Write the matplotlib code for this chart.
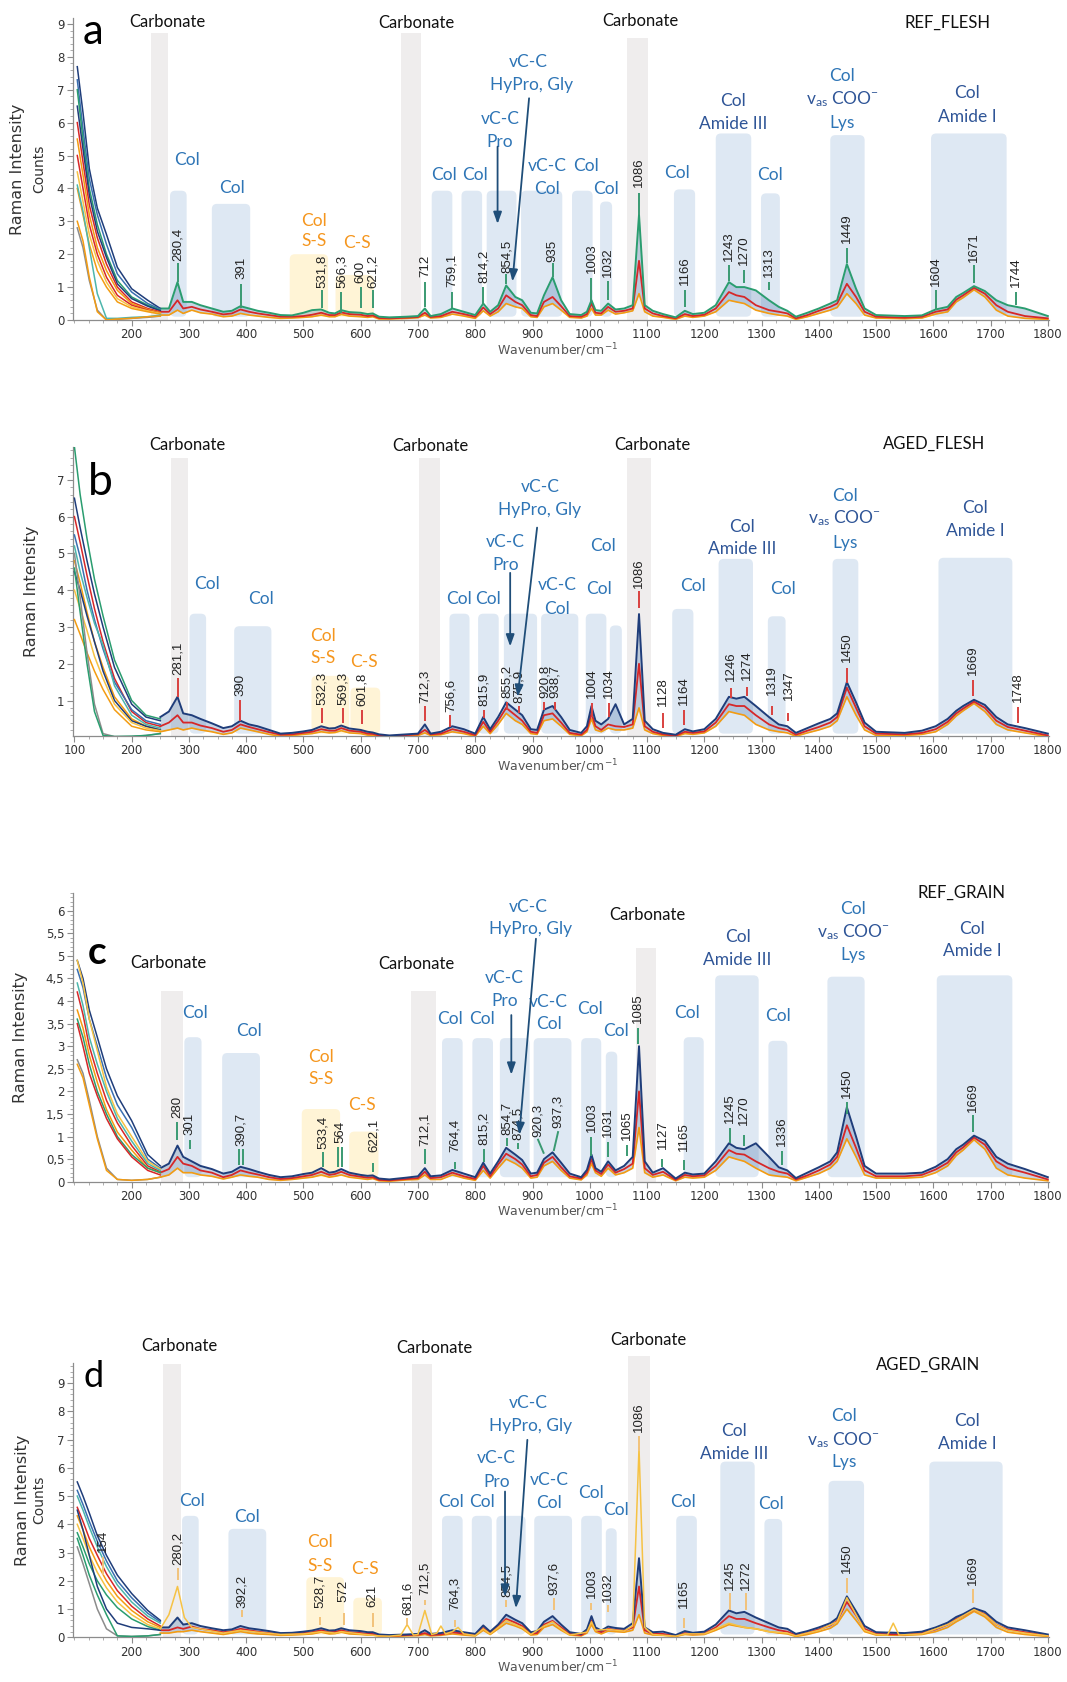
import matplotlib
matplotlib.use("Agg")
import matplotlib.pyplot as plt
from matplotlib.patches import FancyBboxPatch, Rectangle
from matplotlib.ticker import MultipleLocator

plt.rcParams["font.family"] = ["DejaVu Sans"]
plt.rcParams["mathtext.default"] = "regular"

W, H = 1067, 1682
LEFT_PX, RIGHT_PX = 72.7, 1049
XLIM = (97, 1802)

NAVY, BLUE, GREEN, TEAL = "#1F3D7A", "#3A6FB0", "#2A9D6F", "#4DB6AC"
RED, ORANGE, YELLOW, GREY = "#D62728", "#F39C12", "#F6C244", "#8C8C8C"
COL_BLUE, DARK_BLUE, ORANGE_TXT, ARROW = "#2E75B6", "#2F5597", "#F5961E", "#1F4E79"
BOX_GREY, BOX_BLUE, BOX_YELLOW = "#EFEDED", "#DEE8F3", "#FFF4D6"
VAS = r"v$_{as}$ COO$^{-}$"

# common wavenumber grid of the averaged bundles
WN = [250, 265, 280, 290, 305, 320, 340, 360, 375, 390,
      405, 420, 440, 460, 480, 500, 515, 531, 545, 555,
      566, 580, 600, 612, 621, 632, 650, 680, 700, 712,
      722, 740, 760, 780, 800, 814, 826, 840, 854, 870,
      882, 897, 908, 920, 935, 950, 965, 985, 995, 1003,
      1010, 1020, 1032, 1045, 1060, 1075, 1086, 1096, 1110, 1128,
      1150, 1166, 1180, 1200, 1220, 1243, 1256, 1270, 1290, 1313,
      1330, 1345, 1360, 1380, 1400, 1420, 1432, 1449, 1465, 1480,
      1500, 1550, 1580, 1604, 1625, 1640, 1652, 1671, 1690, 1710,
      1730, 1760, 1800]

# ---------------- panel a : REF_FLESH ----------------
A_LO = [0.15, 0.15, 0.3, 0.2, 0.3, 0.22, 0.18, 0.1, 0.12, 0.2,
        0.15, 0.12, 0.08, 0.05, 0.06, 0.08, 0.1, 0.15, 0.1, 0.1,
        0.17, 0.12, 0.1, 0.08, 0.1, 0.03, 0.03, 0.05, 0.07, 0.15,
        0.06, 0.08, 0.18, 0.12, 0.05, 0.28, 0.12, 0.25, 0.5, 0.4,
        0.35, 0.1, 0.08, 0.4, 0.5, 0.3, 0.08, 0.06, 0.12, 0.35,
        0.15, 0.15, 0.3, 0.18, 0.22, 0.28, 0.8, 0.25, 0.12, 0.08,
        0.02, 0.12, 0.08, 0.12, 0.25, 0.6, 0.55, 0.5, 0.3, 0.2,
        0.15, 0.12, 0.02, 0.1, 0.2, 0.3, 0.38, 0.8, 0.5, 0.15,
        0.06, 0.04, 0.06, 0.18, 0.25, 0.55, 0.68, 0.92, 0.7, 0.3,
        0.12, 0.05, 0.02]
A_MID = [0.25, 0.25, 0.6, 0.35, 0.4, 0.32, 0.25, 0.17, 0.2, 0.32,
         0.25, 0.2, 0.15, 0.1, 0.1, 0.12, 0.16, 0.22, 0.15, 0.15,
         0.23, 0.18, 0.16, 0.12, 0.14, 0.06, 0.05, 0.07, 0.09, 0.22,
         0.09, 0.12, 0.25, 0.18, 0.1, 0.38, 0.18, 0.35, 0.75, 0.55,
         0.45, 0.15, 0.12, 0.55, 0.7, 0.42, 0.12, 0.1, 0.18, 0.5,
         0.22, 0.2, 0.4, 0.25, 0.28, 0.35, 1.8, 0.35, 0.2, 0.12,
         0.05, 0.18, 0.12, 0.16, 0.35, 0.85, 0.75, 0.7, 0.45, 0.3,
         0.25, 0.2, 0.05, 0.15, 0.28, 0.4, 0.5, 1.1, 0.7, 0.25,
         0.1, 0.07, 0.1, 0.25, 0.32, 0.62, 0.75, 0.98, 0.8, 0.45,
         0.25, 0.12, 0.05]
A_HI = [0.35, 0.35, 1.15, 0.55, 0.55, 0.45, 0.35, 0.25, 0.28, 0.42,
        0.35, 0.28, 0.22, 0.15, 0.14, 0.22, 0.3, 0.32, 0.22, 0.2,
        0.3, 0.24, 0.22, 0.18, 0.2, 0.1, 0.08, 0.1, 0.12, 0.35,
        0.12, 0.18, 0.35, 0.25, 0.15, 0.5, 0.25, 0.45, 1.05, 0.7,
        0.6, 0.22, 0.2, 0.75, 1.3, 0.6, 0.18, 0.15, 0.25, 0.6,
        0.3, 0.28, 0.5, 0.32, 0.35, 0.45, 3.2, 0.45, 0.28, 0.18,
        0.08, 0.28, 0.18, 0.22, 0.45, 1.15, 1.0, 1.0, 0.9, 0.6,
        0.4, 0.28, 0.1, 0.22, 0.35, 0.5, 0.6, 1.7, 0.95, 0.35,
        0.15, 0.12, 0.14, 0.32, 0.4, 0.7, 0.82, 1.03, 0.88, 0.6,
        0.45, 0.35, 0.12]
A_TAIL_X = [105, 115, 126, 140, 156, 175, 200, 228, 250]
A_TAILS = [
    (NAVY, [7.7, 6.3, 4.6, 3.4, 2.6, 1.6, 0.95, 0.6, 0.35]),
    (BLUE, [7.3, 5.8, 4.3, 3.2, 2.3, 1.4, 0.85, 0.5, 0.33]),
    (GREEN, [7.0, 5.5, 4.0, 2.9, 2.0, 1.2, 0.7, 0.45, 0.3]),
    (NAVY, [6.5, 5.2, 3.8, 2.7, 1.9, 1.1, 0.65, 0.42, 0.28]),
    (RED, [6.0, 4.8, 3.5, 2.5, 1.7, 1.0, 0.55, 0.35, 0.25]),
    (ORANGE, [5.5, 4.4, 3.2, 2.2, 1.5, 0.9, 0.5, 0.32, 0.22]),
    (RED, [5.0, 4.0, 2.9, 2.0, 1.3, 0.75, 0.45, 0.3, 0.2]),
    (YELLOW, [4.5, 3.6, 2.6, 1.8, 1.15, 0.65, 0.4, 0.28, 0.2]),
    (ORANGE, [4.0, 3.2, 2.3, 1.5, 1.0, 0.55, 0.35, 0.25, 0.18]),
    (TEAL, [4.1, 3.3, 2.2, 0.8, 0.05, 0.05, 0.08, 0.1, 0.15]),
    (GREY, [2.8, 2.2, 1.2, 0.3, 0.0, 0.02, 0.05, 0.08, 0.12]),
    (ORANGE, [3.0, 2.4, 1.3, 0.25, 0.0, 0.03, 0.05, 0.1, 0.12]),
]
A_GREY = [(234, 264, 8.73), (670, 706, 8.73), (1065, 1101, 8.58)]
A_BLUE = [(267, 296, 3.93), (340, 407, 3.53), (724, 760, 3.93), (776, 812, 3.93),
          (820, 872, 3.93), (880, 952, 3.93), (969, 1005, 3.93), (1018, 1039, 3.6),
          (1147, 1184, 3.97), (1220, 1282, 5.67), (1299, 1332, 3.85),
          (1420, 1480, 5.62), (1596, 1728, 5.67)]
A_YELLOW = [(476, 543, 2.0), (556, 623, 1.37)]
A_BLACK_TXT = [(263, 9.07, "Carbonate"), (697, 9.04, "Carbonate"), (1089, 9.1, "Carbonate"),
               (1625, 9.04, "REF_FLESH")]
A_BLUE_TXT = [(296, 4.86, "Col"), (376, 4.02, "Col"), (746, 4.41, "Col"), (800, 4.41, "Col"),
              (843, 6.1, "vC-C"), (843, 5.4, "Pro"), (893, 7.83, "vC-C"), (898, 7.15, "HyPro, Gly"),
              (926, 4.69, "vC-C"), (926, 3.98, "Col"), (994, 4.69, "Col"), (1028, 3.99, "Col"),
              (1153, 4.47, "Col"), (1315, 4.4, "Col"), (1441, 7.42, "Col"), (1441, 6.0, "Lys")]
A_DARK_TXT = [(1251, 6.66, "Col"), (1251, 5.95, "Amide III"), (1441, 6.7, VAS),
              (1659, 6.89, "Col"), (1659, 6.18, "Amide I")]
A_ORANGE_TXT = [(518, 3.0, "Col"), (518, 2.41, "S-S"), (594, 2.33, "C-S")]
A_ARROWS = [((839, 5.27), (839, 2.92)), ((894, 6.74), (865, 1.17))]
A_PEAKS = [(280.4, 1.17, 1.72, 1.8, "280,4"), (391, 0.35, 1.09, 1.25, "391"),
           (531.8, 0.35, 0.91, 0.97, "531,8"), (566.3, 0.2, 0.86, 0.97, "566,3"),
           (600, 0.35, 1.0, 1.13, "600"), (621.2, 0.35, 0.91, 0.97, "621,2"),
           (712, 0.4, 1.17, 1.32, "712"), (759.1, 0.35, 0.86, 0.99, "759,1"),
           (814.2, 0.45, 1.0, 1.13, "814,2"), (854.5, 1.1, 1.4, 1.44, "854,5"),
           (935, 1.3, 1.74, 1.77, "935"), (1003, 0.56, 1.27, 1.42, "1003"),
           (1032, 0.6, 1.18, 1.32, "1032"), (1086, 3.19, 3.85, 4.05, "1086"),
           (1166, 0.4, 0.91, 1.06, "1166"), (1243, 1.18, 1.67, 1.79, "1243"),
           (1270, 1.11, 1.52, 1.67, "1270"), (1313, 0.91, 1.17, 1.32, "1313"),
           (1449, 1.72, 2.18, 2.33, "1449"), (1604, 0.3, 0.91, 1.03, "1604"),
           (1671, 1.11, 1.67, 1.77, "1671"), (1744, 0.45, 0.86, 1.01, "1744")]

# ---------------- panel b : AGED_FLESH ----------------
B_LO = [0.15, 0.2, 0.25, 0.2, 0.25, 0.2, 0.15, 0.08, 0.12, 0.25,
        0.2, 0.15, 0.08, 0.03, 0.05, 0.08, 0.1, 0.15, 0.12, 0.13,
        0.18, 0.12, 0.1, 0.06, 0.05, 0.03, 0.01, 0.03, 0.05, 0.12,
        0.05, 0.07, 0.15, 0.1, 0.03, 0.3, 0.1, 0.35, 0.65, 0.45,
        0.35, 0.1, 0.08, 0.45, 0.5, 0.3, 0.08, 0.04, 0.15, 0.5,
        0.2, 0.15, 0.25, 0.2, 0.2, 0.25, 0.8, 0.2, 0.1, 0.05,
        0.02, 0.1, 0.08, 0.12, 0.3, 0.7, 0.65, 0.6, 0.35, 0.2,
        0.15, 0.12, 0.03, 0.12, 0.2, 0.3, 0.45, 1.1, 0.6, 0.2,
        0.05, 0.05, 0.08, 0.15, 0.35, 0.58, 0.72, 0.92, 0.7, 0.35,
        0.2, 0.12, 0.02]
B_MID = [0.3, 0.4, 0.6, 0.4, 0.4, 0.32, 0.25, 0.15, 0.2, 0.35,
         0.28, 0.22, 0.14, 0.07, 0.08, 0.12, 0.15, 0.22, 0.18, 0.18,
         0.25, 0.18, 0.15, 0.1, 0.09, 0.05, 0.03, 0.06, 0.08, 0.2,
         0.08, 0.1, 0.22, 0.15, 0.06, 0.42, 0.15, 0.45, 0.8, 0.6,
         0.45, 0.15, 0.12, 0.6, 0.65, 0.4, 0.12, 0.07, 0.2, 0.65,
         0.3, 0.2, 0.35, 0.3, 0.28, 0.35, 2.0, 0.3, 0.15, 0.08,
         0.04, 0.15, 0.12, 0.16, 0.4, 0.9, 0.85, 0.85, 0.6, 0.35,
         0.25, 0.2, 0.07, 0.18, 0.28, 0.4, 0.55, 1.35, 0.8, 0.3,
         0.1, 0.08, 0.12, 0.22, 0.42, 0.65, 0.78, 0.97, 0.8, 0.45,
         0.28, 0.18, 0.05]
B_HI = [0.55, 0.7, 1.1, 0.65, 0.6, 0.5, 0.38, 0.25, 0.3, 0.45,
        0.35, 0.3, 0.2, 0.1, 0.12, 0.16, 0.2, 0.3, 0.24, 0.25,
        0.32, 0.24, 0.2, 0.15, 0.13, 0.08, 0.05, 0.08, 0.1, 0.35,
        0.1, 0.15, 0.3, 0.22, 0.1, 0.55, 0.22, 0.55, 0.95, 0.75,
        0.6, 0.22, 0.2, 0.75, 0.85, 0.55, 0.2, 0.12, 0.3, 0.85,
        0.45, 0.35, 0.5, 0.9, 0.35, 0.5, 3.35, 0.45, 0.22, 0.12,
        0.07, 0.22, 0.16, 0.22, 0.5, 1.1, 1.05, 1.1, 0.85, 0.55,
        0.35, 0.3, 0.12, 0.25, 0.38, 0.5, 0.65, 1.5, 0.95, 0.4,
        0.15, 0.12, 0.18, 0.3, 0.5, 0.72, 0.85, 1.02, 0.88, 0.55,
        0.35, 0.25, 0.1]
B_TAIL_X = [100, 110, 122, 135, 150, 170, 200, 225, 250]
B_TAILS = [
    (GREEN, [7.9, 6.6, 5.4, 4.3, 3.3, 2.1, 1.0, 0.6, 0.5]),
    (NAVY, [6.5, 5.7, 4.8, 3.9, 3.0, 1.9, 0.9, 0.55, 0.45]),
    (RED, [6.0, 5.3, 4.4, 3.5, 2.6, 1.6, 0.7, 0.4, 0.3]),
    (BLUE, [5.5, 4.9, 4.0, 3.2, 2.4, 1.5, 0.75, 0.45, 0.35]),
    (TEAL, [5.2, 4.5, 3.8, 3.1, 2.5, 1.4, 0.6, 0.35, 0.25]),
    (ORANGE, [4.8, 4.2, 3.4, 2.6, 1.9, 1.1, 0.5, 0.3, 0.2]),
    (NAVY, [4.5, 4.0, 3.3, 2.6, 1.8, 1.0, 0.45, 0.3, 0.2]),
    (YELLOW, [4.0, 3.5, 2.9, 2.2, 1.6, 0.9, 0.4, 0.25, 0.18]),
    (ORANGE, [3.2, 2.8, 2.3, 1.8, 1.3, 0.75, 0.3, 0.2, 0.15]),
    (GREY, [5.0, 3.8, 2.3, 0.9, 0.1, 0.02, 0.02, 0.05, 0.1]),
    (GREEN, [4.6, 3.4, 2.0, 0.7, 0.05, 0.02, 0.03, 0.05, 0.1]),
]
B_GREY = [(268, 298, 7.58), (702, 738, 7.58), (1065, 1107, 7.58)]
B_BLUE = [(301, 330, 3.36), (379, 444, 3.02), (755, 790, 3.36), (805, 841, 3.36),
          (850, 908, 3.36), (915, 980, 3.36), (993, 1029, 3.36), (1035, 1056, 3.04),
          (1144, 1181, 3.49), (1225, 1285, 4.85), (1311, 1342, 3.29),
          (1424, 1469, 4.85), (1609, 1738, 4.88)]
B_YELLOW = [(514, 580, 1.67), (582, 634, 1.35)]
B_BLACK_TXT = [(298, 7.95, "Carbonate"), (722, 7.93, "Carbonate"), (1110, 7.95, "Carbonate"),
               (1601, 7.97, "AGED_FLESH")]
B_BLUE_TXT = [(331, 4.18, "Col"), (425, 3.75, "Col"), (772, 3.75, "Col"), (823, 3.75, "Col"),
              (853, 5.31, "vC-C"), (853, 4.69, "Pro"), (914, 6.8, "vC-C"), (912, 6.18, "HyPro, Gly"),
              (943, 4.14, "vC-C"), (943, 3.5, "Col"), (1023, 5.2, "Col"), (1016, 4.02, "Col"),
              (1181, 4.11, "Col"), (1337, 4.04, "Col"), (1445, 6.56, "Col"), (1445, 5.29, "Lys")]
B_DARK_TXT = [(1266, 5.73, "Col"), (1266, 5.11, "Amide III"), (1445, 5.95, VAS),
              (1673, 6.22, "Col"), (1673, 5.6, "Amide I")]
B_ORANGE_TXT = [(534, 2.76, "Col"), (534, 2.15, "S-S"), (606, 2.04, "C-S")]
B_ARROWS = [((861, 4.47), (861, 2.47)), ((908, 5.7), (874, 1.1))]
B_PEAKS = [(281.1, 1.1, 1.6, 1.7, "281,1"), (390, 0.43, 1.02, 1.11, "390"),
           (532.3, 0.38, 0.79, 0.88, "532,3"), (569.3, 0.38, 0.79, 0.88, "569,3"),
           (601.8, 0.36, 0.73, 0.84, "601,8"), (712.3, 0.43, 0.85, 0.93, "712,3"),
           (756.6, 0.29, 0.61, 0.7, "756,6"), (815.9, 0.52, 0.73, 0.84, "815,9"),
           (855.2, 0.75, 0.97, 1.06, "855,2"), (875.9, 0.65, 0.84, 0.93, "875,9"),
           (920.8, 0.75, 0.97, 1.06, "920,8"), (938.7, 0.75, 0.97, 1.06, "938,7"),
           (1004, 0.56, 0.93, 1.06, "1004"), (1034, 0.56, 0.93, 1.06, "1034"),
           (1086, 3.52, 3.97, 4.06, "1086"), (1128, 0.25, 0.67, 0.84, "1128"),
           (1164, 0.34, 0.73, 0.88, "1164"), (1246, 1.06, 1.34, 1.52, "1246"),
           (1274, 1.11, 1.38, 1.56, "1274"), (1319, 0.61, 0.84, 1.15, "1319"),
           (1347, 0.43, 0.67, 1.02, "1347"), (1450, 1.47, 1.88, 2.04, "1450"),
           (1669, 1.11, 1.56, 1.7, "1669"), (1748, 0.38, 0.82, 0.97, "1748")]

# ---------------- panel c : REF_GRAIN ----------------
C_LO = [0.1, 0.15, 0.3, 0.2, 0.2, 0.15, 0.12, 0.06, 0.1, 0.15,
        0.12, 0.1, 0.05, 0.03, 0.05, 0.08, 0.1, 0.15, 0.1, 0.12,
        0.15, 0.1, 0.07, 0.05, 0.07, 0.02, 0.01, 0.04, 0.05, 0.15,
        0.05, 0.05, 0.15, 0.08, 0.03, 0.25, 0.08, 0.3, 0.5, 0.4,
        0.3, 0.08, 0.1, 0.35, 0.45, 0.25, 0.08, 0.04, 0.15, 0.4,
        0.2, 0.12, 0.3, 0.15, 0.2, 0.3, 1.2, 0.2, 0.1, 0.15,
        0.02, 0.1, 0.08, 0.1, 0.25, 0.55, 0.5, 0.45, 0.3, 0.15,
        0.12, 0.1, 0.02, 0.1, 0.18, 0.3, 0.45, 0.95, 0.55, 0.15,
        0.08, 0.08, 0.1, 0.2, 0.35, 0.58, 0.7, 0.93, 0.72, 0.3,
        0.15, 0.08, 0.02]
C_MID = [0.2, 0.28, 0.55, 0.4, 0.35, 0.25, 0.2, 0.1, 0.15, 0.25,
         0.2, 0.16, 0.1, 0.06, 0.08, 0.12, 0.15, 0.22, 0.15, 0.17,
         0.22, 0.15, 0.11, 0.09, 0.1, 0.04, 0.03, 0.06, 0.08, 0.22,
         0.08, 0.1, 0.2, 0.12, 0.06, 0.35, 0.12, 0.38, 0.62, 0.5,
         0.38, 0.12, 0.15, 0.42, 0.55, 0.32, 0.12, 0.07, 0.2, 0.5,
         0.25, 0.17, 0.38, 0.2, 0.28, 0.4, 2.0, 0.3, 0.15, 0.22,
         0.04, 0.15, 0.12, 0.14, 0.35, 0.7, 0.62, 0.6, 0.45, 0.3,
         0.22, 0.18, 0.05, 0.14, 0.25, 0.38, 0.55, 1.25, 0.75, 0.25,
         0.12, 0.12, 0.15, 0.27, 0.42, 0.65, 0.76, 0.98, 0.82, 0.45,
         0.3, 0.2, 0.05]
C_HI = [0.3, 0.4, 0.8, 0.55, 0.45, 0.35, 0.28, 0.18, 0.22, 0.33,
        0.28, 0.22, 0.15, 0.1, 0.12, 0.17, 0.2, 0.3, 0.2, 0.22,
        0.28, 0.2, 0.15, 0.13, 0.14, 0.07, 0.05, 0.09, 0.12, 0.3,
        0.12, 0.14, 0.26, 0.18, 0.1, 0.42, 0.18, 0.45, 0.75, 0.6,
        0.48, 0.18, 0.2, 0.5, 0.65, 0.42, 0.18, 0.1, 0.26, 0.6,
        0.3, 0.22, 0.45, 0.25, 0.35, 0.55, 3.0, 0.45, 0.2, 0.3,
        0.07, 0.2, 0.16, 0.18, 0.45, 0.85, 0.75, 0.72, 0.85, 0.55,
        0.32, 0.25, 0.08, 0.2, 0.32, 0.45, 0.65, 1.65, 1.0, 0.35,
        0.18, 0.18, 0.2, 0.33, 0.5, 0.72, 0.82, 1.02, 0.9, 0.55,
        0.4, 0.28, 0.1]
C_TAIL_X = [105, 115, 126, 140, 156, 175, 200, 228, 250]
C_TAILS = [
    (NAVY, [4.9, 4.5, 3.8, 3.2, 2.5, 1.9, 1.35, 0.6, 0.35]),
    (BLUE, [4.7, 4.3, 3.6, 3.0, 2.3, 1.7, 1.2, 0.5, 0.3]),
    (YELLOW, [4.9, 4.4, 3.6, 2.9, 2.1, 1.5, 1.0, 0.45, 0.28]),
    (RED, [4.2, 3.7, 3.0, 2.4, 1.8, 1.3, 0.8, 0.35, 0.22]),
    (TEAL, [4.4, 3.9, 3.2, 2.6, 2.0, 1.4, 0.9, 0.4, 0.25]),
    (ORANGE, [3.8, 3.4, 2.8, 2.2, 1.6, 1.1, 0.7, 0.3, 0.2]),
    (GREEN, [3.6, 3.2, 2.6, 2.0, 1.5, 1.0, 0.6, 0.3, 0.2]),
    (RED, [3.5, 3.0, 2.4, 1.9, 1.4, 0.95, 0.55, 0.25, 0.15]),
    (GREY, [2.7, 2.4, 1.8, 1.0, 0.3, 0.05, 0.03, 0.05, 0.1]),
    (ORANGE, [2.6, 2.3, 1.7, 0.95, 0.25, 0.05, 0.03, 0.05, 0.1]),
]
C_GREY = [(252, 289, 4.22), (688, 731, 4.22), (1081, 1115, 5.18)]
C_BLUE = [(292, 322, 3.2), (358, 424, 2.85), (742, 778, 3.18), (795, 831, 3.18),
          (843, 895, 3.18), (902, 968, 3.18), (985, 1020, 3.18), (1028, 1048, 2.88),
          (1164, 1199, 3.2), (1219, 1295, 4.57), (1312, 1345, 3.12),
          (1415, 1480, 4.54), (1606, 1738, 4.57)]
C_YELLOW = [(497, 564, 1.61), (580, 631, 1.11)]
C_BLACK_TXT = [(264, 4.84, "Carbonate"), (698, 4.82, "Carbonate"), (1100, 5.9, "Carbonate"),
               (1649, 6.4, "REF_GRAIN")]
C_BLUE_TXT = [(310, 3.73, "Col"), (405, 3.33, "Col"), (756, 3.6, "Col"), (811, 3.6, "Col"),
              (851, 4.5, "vC-C"), (851, 4.0, "Pro"), (892, 6.09, "vC-C"), (897, 5.59, "HyPro, Gly"),
              (928, 3.99, "vC-C"), (928, 3.5, "Col"), (1001, 3.83, "Col"), (1045, 3.33, "Col"),
              (1170, 3.73, "Col"), (1329, 3.67, "Col"), (1460, 6.04, "Col"), (1460, 5.03, "Lys")]
C_DARK_TXT = [(1258, 5.41, "Col"), (1258, 4.92, "Amide III"), (1460, 5.53, VAS),
              (1668, 5.59, "Col"), (1668, 5.11, "Amide I")]
C_ORANGE_TXT = [(530, 2.76, "Col"), (530, 2.27, "S-S"), (602, 1.7, "C-S")]
C_ARROWS = [((863, 3.69), (863, 2.37)), ((906, 5.38), (877, 1.04))]
C_PEAKS = [(280, 0.93, 1.33, 1.4, "280"), (301, 0.72, 0.93, 1.04, "301"),
           (388, 0.36, 0.72, 0, ""), (394, 0.36, 0.72, 0, ""), (391, 0, 0, 0.79, "390,7"),
           (533.4, 0.32, 0.65, 0.72, "533,4"),
           (561, 0.32, 0.77, 0, ""), (568, 0.32, 0.77, 0, ""), (564, 0, 0, 0.86, "564"),
           (622.1, 0.22, 0.42, 0.65, "622,1"), (712.1, 0.39, 0.72, 0.79, "712,1"),
           (764.4, 0.29, 0.44, 0.65, "764,4"), (815.2, 0.43, 0.72, 0.82, "815,2"),
           (854.7, 0.79, 0.97, 1.04, "854,7"), (874.5, 0.72, 0.86, 0.93, "874,5"),
           (909, 0.62, 0.95, 1.0, "920,3"), (945, 0.68, 1.12, 1.18, "937,3"),
           (1003, 0.57, 1.0, 1.11, "1003"), (1031, 0.54, 0.87, 1.0, "1031"),
           (1065, 0.57, 0.82, 0.93, "1065"), (1085, 3.05, 3.4, 3.51, "1085"),
           (1127, 0.32, 0.5, 0.72, "1127"), (1165, 0.25, 0.47, 0.68, "1165"),
           (1245, 0.86, 1.18, 1.29, "1245"), (1270, 0.79, 1.04, 1.25, "1270"),
           (1336, 0.36, 0.68, 0.79, "1336"), (1450, 1.5, 1.76, 1.86, "1450"),
           (1669, 1.11, 1.47, 1.54, "1669")]
C_SLANT = {"920,3": 920, "937,3": 937}

# ---------------- panel d : AGED_GRAIN ----------------
D_LO = [0.15, 0.15, 0.2, 0.2, 0.25, 0.2, 0.15, 0.1, 0.15, 0.2,
        0.15, 0.12, 0.1, 0.07, 0.08, 0.1, 0.12, 0.18, 0.12, 0.13,
        0.18, 0.12, 0.1, 0.08, 0.08, 0.04, 0.03, 0.05, 0.06, 0.1,
        0.05, 0.07, 0.12, 0.08, 0.05, 0.25, 0.1, 0.3, 0.5, 0.4,
        0.3, 0.08, 0.1, 0.35, 0.45, 0.25, 0.08, 0.05, 0.15, 0.45,
        0.2, 0.12, 0.22, 0.2, 0.18, 0.25, 0.8, 0.15, 0.08, 0.07,
        0.03, 0.1, 0.08, 0.1, 0.25, 0.45, 0.4, 0.35, 0.3, 0.2,
        0.15, 0.12, 0.03, 0.1, 0.2, 0.32, 0.48, 1.0, 0.6, 0.2,
        0.08, 0.07, 0.1, 0.2, 0.35, 0.55, 0.68, 0.92, 0.72, 0.35,
        0.18, 0.1, 0.03]
D_MID = [0.25, 0.25, 0.35, 0.3, 0.38, 0.3, 0.25, 0.18, 0.22, 0.3,
         0.25, 0.2, 0.15, 0.11, 0.12, 0.15, 0.18, 0.25, 0.18, 0.19,
         0.25, 0.18, 0.15, 0.12, 0.12, 0.07, 0.05, 0.08, 0.09, 0.15,
         0.08, 0.1, 0.18, 0.13, 0.08, 0.33, 0.15, 0.38, 0.65, 0.52,
         0.4, 0.13, 0.15, 0.45, 0.58, 0.35, 0.12, 0.08, 0.2, 0.6,
         0.27, 0.18, 0.3, 0.26, 0.24, 0.35, 1.8, 0.25, 0.12, 0.12,
         0.05, 0.15, 0.12, 0.14, 0.35, 0.75, 0.65, 0.65, 0.5, 0.35,
         0.25, 0.2, 0.07, 0.16, 0.28, 0.42, 0.58, 1.25, 0.78, 0.3,
         0.12, 0.1, 0.15, 0.28, 0.45, 0.65, 0.76, 0.98, 0.82, 0.45,
         0.28, 0.18, 0.06]
D_HI = [0.35, 0.35, 0.7, 0.45, 0.5, 0.4, 0.32, 0.25, 0.28, 0.4,
        0.32, 0.28, 0.22, 0.15, 0.16, 0.2, 0.24, 0.32, 0.24, 0.25,
        0.32, 0.25, 0.22, 0.18, 0.18, 0.1, 0.08, 0.1, 0.12, 0.25,
        0.12, 0.15, 0.25, 0.18, 0.12, 0.42, 0.2, 0.45, 0.8, 0.62,
        0.5, 0.18, 0.22, 0.55, 0.75, 0.45, 0.18, 0.12, 0.28, 0.75,
        0.35, 0.24, 0.38, 0.33, 0.3, 0.5, 2.8, 0.35, 0.18, 0.2,
        0.08, 0.22, 0.16, 0.2, 0.45, 0.95, 0.85, 0.9, 0.7, 0.5,
        0.35, 0.3, 0.12, 0.22, 0.35, 0.5, 0.68, 1.45, 0.92, 0.4,
        0.18, 0.15, 0.2, 0.35, 0.52, 0.72, 0.82, 1.03, 0.9, 0.55,
        0.35, 0.25, 0.1]
# single yellow-orange spectrum in d with strong carbonate / extra bands
D_OR_WN = [250, 265, 280, 292, 305, 320, 340, 360, 390, 420, 460, 500, 531, 555, 566,
           600, 632, 650, 670, 681, 692, 700, 712, 724, 733, 740, 748, 760, 770, 780,
           800, 814, 826, 840, 854, 870, 882, 897, 920, 935, 950, 965, 995, 1003, 1010,
           1032, 1060, 1075, 1086, 1096, 1110, 1150, 1166, 1200, 1220, 1243, 1270, 1290,
           1313, 1345, 1360, 1400, 1432, 1449, 1465, 1480, 1500, 1520, 1530, 1540, 1580,
           1625, 1652, 1671, 1690, 1710, 1730, 1760, 1800]
D_OR_Y = [0.3, 0.8, 1.8, 0.7, 0.35, 0.3, 0.22, 0.15, 0.25, 0.18, 0.1, 0.12, 0.2, 0.15, 0.2,
          0.12, 0.05, 0.04, 0.08, 0.45, 0.08, 0.1, 0.95, 0.1, 0.15, 0.4, 0.12, 0.2, 0.35, 0.12,
          0.06, 0.3, 0.12, 0.35, 0.6, 0.45, 0.35, 0.1, 0.4, 0.55, 0.3, 0.08, 0.18, 0.55, 0.25,
          0.28, 0.22, 0.4, 6.7, 0.35, 0.1, 0.04, 0.12, 0.12, 0.3, 0.5, 0.35, 0.3,
          0.2, 0.15, 0.05, 0.25, 0.55, 1.4, 0.8, 0.25, 0.1, 0.08, 0.5, 0.08, 0.12,
          0.45, 0.76, 0.98, 0.8, 0.45, 0.25, 0.15, 0.05]
D_TAIL_X = [105, 115, 126, 140, 156, 175, 200, 228, 250]
D_TAILS = [
    (NAVY, [5.5, 5.0, 4.4, 3.6, 2.9, 2.2, 1.55, 0.95, 0.6]),
    (BLUE, [5.2, 4.7, 4.1, 3.4, 2.7, 2.0, 1.4, 0.85, 0.55]),
    (TEAL, [5.0, 4.5, 3.9, 3.2, 2.5, 1.85, 1.25, 0.75, 0.5]),
    (RED, [4.6, 4.1, 3.5, 2.9, 2.25, 1.65, 1.1, 0.65, 0.4]),
    (ORANGE, [4.3, 3.8, 3.2, 2.6, 2.0, 1.45, 0.95, 0.55, 0.35]),
    (YELLOW, [4.0, 3.5, 2.9, 2.3, 1.75, 1.25, 0.8, 0.45, 0.3]),
    (GREEN, [3.7, 3.2, 2.6, 2.0, 1.5, 1.05, 0.65, 0.38, 0.25]),
    (NAVY, [4.5, 3.8, 2.9, 1.8, 1.0, 0.5, 0.35, 0.3, 0.25]),
    (GREY, [3.2, 2.6, 1.9, 1.0, 0.3, 0.05, 0.03, 0.05, 0.1]),
    (GREEN, [3.5, 2.9, 2.2, 1.5, 0.8, 0.05, 0.03, 0.05, 0.1]),
]
D_GREY = [(255, 286, 9.67), (690, 725, 9.67), (1066, 1105, 9.96)]
D_BLUE = [(288, 317, 4.3), (369, 435, 3.84), (742, 778, 4.3), (794, 829, 4.3),
          (837, 888, 4.3), (903, 969, 4.3), (985, 1021, 4.3), (1028, 1047, 3.86),
          (1151, 1187, 4.3), (1228, 1288, 6.22), (1305, 1336, 4.19),
          (1417, 1479, 5.54), (1593, 1721, 6.22)]
D_YELLOW = [(505, 571, 2.13), (587, 637, 1.4)]
D_BLACK_TXT = [(283, 10.3, "Carbonate"), (728, 10.24, "Carbonate"), (1103, 10.53, "Carbonate"),
               (1591, 9.65, "AGED_GRAIN")]
D_BLUE_TXT = [(306, 4.83, "Col"), (401, 4.27, "Col"), (758, 4.8, "Col"), (811, 4.8, "Col"),
              (837, 6.34, "vC-C"), (837, 5.51, "Pro"), (892, 8.29, "vC-C"), (896, 7.49, "HyPro, Gly"),
              (929, 5.57, "vC-C"), (929, 4.75, "Col"), (1002, 5.1, "Col"), (1045, 4.49, "Col"),
              (1162, 4.8, "Col"), (1317, 4.71, "Col"), (1444, 7.84, "Col"), (1444, 6.19, "Lys")]
D_DARK_TXT = [(1252, 7.31, "Col"), (1252, 6.49, "Amide III"), (1444, 6.99, VAS),
              (1659, 7.67, "Col"), (1659, 6.85, "Amide I")]
D_ORANGE_TXT = [(529, 3.36, "Col"), (529, 2.54, "S-S"), (607, 2.41, "C-S")]
D_ARROWS = [((852, 5.16), (852, 1.44)), ((891, 6.99), (871, 1.03))]
D_PEAKS = [(150, 2.21, 2.86, 3.03, "154"), (280.2, 2.03, 2.44, 2.56, "280,2"),
           (392.2, 0.73, 0.97, 1.03, "392,2"), (528.7, 0.44, 0.73, 1.03, "528,7"),
           (570, 0.44, 0.85, 1.26, "572"), (621, 0.38, 0.85, 1.09, "621"),
           (681.6, 0.44, 0.67, 0.79, "681,6"), (712.5, 1.15, 1.32, 1.5, "712,5"),
           (764.3, 0.38, 0.61, 0.97, "764,3"), (854.5, 1.09, 1.32, 1.44, "854,5"),
           (937.6, 0.97, 1.38, 1.5, "937,6"), (1003, 0.97, 1.2, 1.38, "1003"),
           (1032, 0.91, 1.15, 1.26, "1032"), (1086, 6.58, 7.11, 7.28, "1086"),
           (1165, 0.32, 0.67, 1.03, "1165"), (1245, 0.97, 1.56, 1.68, "1245"),
           (1272, 0.97, 1.56, 1.68, "1272"), (1450, 1.56, 2.09, 2.27, "1450"),
           (1669, 1.2, 1.7, 1.85, "1669")]

PANELS = [
    dict(letter=("a", 133, 8.76, 30, "normal"), bottom_px=320, top_px=18, ylim=(0, 9.18),
         yticks=list(range(10)), ylabels=[str(v) for v in range(10)], yminor=0.2,
         xticks=list(range(200, 1801, 100)), lo=A_LO, mid=A_MID, hi=A_HI, hi_color=GREEN,
         tail_x=A_TAIL_X, tails=A_TAILS, grey=A_GREY, blue=A_BLUE, yellow=A_YELLOW,
         black=A_BLACK_TXT, btxt=A_BLUE_TXT, dtxt=A_DARK_TXT, otxt=A_ORANGE_TXT,
         arrows=A_ARROWS, peaks=A_PEAKS, pcolor="#3A9A72", slant={},
         ylab_x=18, counts=True),
    dict(letter=("b", 145, 6.93, 32, "normal"), bottom_px=736, top_px=446.7, ylim=(0.035, 7.9),
         yticks=list(range(1, 8)), ylabels=[str(v) for v in range(1, 8)], yminor=0.2,
         xticks=list(range(100, 1801, 100)), lo=B_LO, mid=B_MID, hi=B_HI, hi_color=NAVY,
         tail_x=B_TAIL_X, tails=B_TAILS, grey=B_GREY, blue=B_BLUE, yellow=B_YELLOW,
         black=B_BLACK_TXT, btxt=B_BLUE_TXT, dtxt=B_DARK_TXT, otxt=B_ORANGE_TXT,
         arrows=B_ARROWS, peaks=B_PEAKS, pcolor="#D9413F", slant={},
         ylab_x=32, counts=False),
    dict(letter=("c", 139, 5.07, 28, "bold"), bottom_px=1181.7, top_px=892.7, ylim=(0, 6.4),
         yticks=[v * 0.5 for v in range(13)],
         ylabels=[("%g" % (v * 0.5)).replace(".", ",") for v in range(13)], yminor=0.1,
         xticks=list(range(200, 1801, 100)), lo=C_LO, mid=C_MID, hi=C_HI, hi_color=NAVY,
         tail_x=C_TAIL_X, tails=C_TAILS, grey=C_GREY, blue=C_BLUE, yellow=C_YELLOW,
         black=C_BLACK_TXT, btxt=C_BLUE_TXT, dtxt=C_DARK_TXT, otxt=C_ORANGE_TXT,
         arrows=C_ARROWS, peaks=C_PEAKS, pcolor="#3A9A72", slant=C_SLANT,
         ylab_x=21, counts=False),
    dict(letter=("d", 133, 9.24, 26, "normal"), bottom_px=1637.3, top_px=1363.3, ylim=(0, 9.7),
         yticks=list(range(10)), ylabels=[str(v) for v in range(10)], yminor=0.2,
         xticks=list(range(200, 1801, 100)), lo=D_LO, mid=D_MID, hi=D_HI, hi_color=NAVY,
         tail_x=D_TAIL_X, tails=D_TAILS, grey=D_GREY, blue=D_BLUE, yellow=D_YELLOW,
         black=D_BLACK_TXT, btxt=D_BLUE_TXT, dtxt=D_DARK_TXT, otxt=D_ORANGE_TXT,
         arrows=D_ARROWS, peaks=D_PEAKS, pcolor="#F2C27A", slant={},
         ylab_x=23, counts=True),
]

fig = plt.figure(figsize=(W / 100, H / 100), dpi=100)

for i, p in enumerate(PANELS):
    h_px = p["bottom_px"] - p["top_px"]
    ax = fig.add_axes([LEFT_PX / W, 1 - p["bottom_px"] / H, (RIGHT_PX - LEFT_PX) / W, h_px / H])
    ax.set_xlim(*XLIM)
    ax.set_ylim(*p["ylim"])
    y0 = p["ylim"][0]
    # aspect used to keep box corners round in pixels
    xpx = (RIGHT_PX - LEFT_PX) / (XLIM[1] - XLIM[0])
    ypx = h_px / (p["ylim"][1] - p["ylim"][0])
    m = xpx / ypx

    for x0, x1, top in p["grey"]:
        ax.add_patch(Rectangle((x0, y0), x1 - x0, top - y0, fc=BOX_GREY, ec="none",
                               zorder=0, clip_on=False))
    for boxes, col in ((p["blue"], BOX_BLUE), (p["yellow"], BOX_YELLOW)):
        for x0, x1, top in boxes:
            ax.add_patch(FancyBboxPatch((x0, 0.1), x1 - x0, top - 0.1,
                                        boxstyle="round,pad=0,rounding_size=9",
                                        mutation_aspect=m, fc=col, ec="none", zorder=0))

    # spectra bundle
    ax.fill_between(WN, p["lo"], p["hi"], color="#5F86B5", alpha=0.35, lw=0, zorder=2)
    ax.plot(WN, p["lo"], color=ORANGE, lw=1.2, zorder=3)
    ax.plot(WN, p["mid"], color=RED, lw=1.3, zorder=3)
    ax.plot(WN, p["hi"], color=p["hi_color"], lw=1.4, zorder=3)
    for col, vals in p["tails"]:
        ax.plot(p["tail_x"], vals, color=col, lw=1.1, zorder=3)
    if i == 3:
        ax.plot(D_OR_WN, D_OR_Y, color=YELLOW, lw=1.1, zorder=3)

    # peak markers
    for x, ylo, yhi, yt, s in p["peaks"]:
        if yhi > ylo:
            xb = p["slant"].get(s, x)
            ax.plot([xb, x], [ylo, yhi], color=p["pcolor"], lw=1.4, zorder=4,
                    solid_capstyle="butt")
        if s:
            ax.text(x, yt, s, rotation=90, ha="center", va="bottom", fontsize=9.5,
                    family="Liberation Sans", color="#222222", zorder=5)

    for x, y, s in p["black"]:
        ax.text(x, y, s, ha="center", va="center", fontsize=12, family="Lato",
                color="#111111", zorder=6, clip_on=False)
    for items, col in ((p["btxt"], COL_BLUE), (p["dtxt"], DARK_BLUE), (p["otxt"], ORANGE_TXT)):
        for x, y, s in items:
            ax.text(x, y, s, ha="center", va="center", fontsize=12.5, family="Lato",
                    color=col, zorder=6, clip_on=False)
    for (xa, ya), (xb, yb) in p["arrows"]:
        ax.annotate("", xy=(xb, yb), xytext=(xa, ya),
                    arrowprops=dict(arrowstyle="-|>,head_width=0.25,head_length=0.7",
                                    color=ARROW, lw=1.3, shrinkA=0, shrinkB=0), zorder=6)
    lt, lx, ly, lsize, lw_ = p["letter"]
    ax.text(lx, ly, lt, ha="center", va="center", fontsize=lsize, family="Lato",
            fontweight=lw_, color="black", zorder=6)

    # axes styling
    for side in ("top", "right"):
        ax.spines[side].set_visible(False)
    for side in ("left", "bottom"):
        ax.spines[side].set_color("#8C8C8C")
        ax.spines[side].set_linewidth(0.9)
    ax.set_xticks(p["xticks"])
    ax.set_xticklabels([str(v) for v in p["xticks"]])
    ax.xaxis.set_minor_locator(MultipleLocator(25))
    ax.set_yticks(p["yticks"])
    ax.set_yticklabels(p["ylabels"])
    ax.yaxis.set_minor_locator(MultipleLocator(p["yminor"]))
    ax.tick_params(which="major", direction="out", length=4, width=0.8, color="#8C8C8C",
                   labelcolor="#333333", labelsize=8.5, pad=2)
    ax.tick_params(which="minor", direction="out", length=2.5, width=0.6, color="#A0A0A0")
    ax.patch.set_alpha(0)

    mid_px = (p["bottom_px"] + p["top_px"]) / 2
    fig.text(p["ylab_x"] / W, 1 - mid_px / H, "Raman Intensity", rotation=90,
             ha="center", va="center", fontsize=11.5, color="#333333")
    if p["counts"]:
        fig.text(39 / W, 1 - mid_px / H, "Counts", rotation=90, ha="center", va="center",
                 fontsize=10, color="#333333")
    fig.text(558 / W, 1 - (p["bottom_px"] + 30) / H, "Wavenumber/cm$^{-1}$",
             ha="center", va="center", fontsize=9, color="#555555")

fig.savefig("out.png", dpi=100, facecolor="white")
